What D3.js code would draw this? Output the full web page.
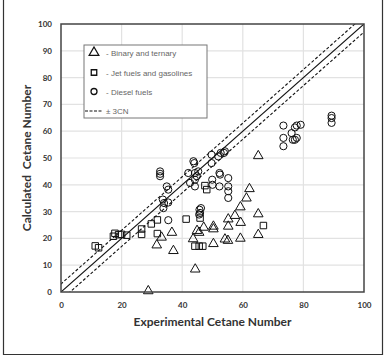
<!DOCTYPE html>
<html>
<head>
<meta charset="utf-8">
<script src="https://cdn.jsdelivr.net/npm/d3@7"></script>
<style>
  body { margin: 0; background: #fff; }
  svg { display: block; }
  .axis text { font-family: Lato, "Open Sans", sans-serif; font-weight: bold; font-size: 8px; fill: #333; }
  .axis path, .axis line { display: none; }
  .title { font-family: Lato, "Open Sans", sans-serif; font-weight: bold; font-size: 12px; fill: #333; }
  .legend text { font-family: "Liberation Sans", Arial, sans-serif; font-size: 8px; fill: #666; }
</style>
</head>
<body>
<div id="chart"></div>
<script>
// Binary and ternary mixtures [experimental, calculated]
const binaryTernary = [
  [28.8, 0.2], [31.6, 17.3], [33.2, 20.2], [36.6, 22], [37.1, 15.2], [43.6, 19.6],
  [44.3, 8.3], [44.9, 22.7], [45.6, 22], [47.1, 23.9], [50.3, 24.3], [50.3, 23.3],
  [50.3, 17.8], [54.1, 19.5], [55.1, 19], [55.2, 27], [55.2, 24.3], [57.4, 28.3],
  [59.2, 31.5], [59.3, 25.7], [59.2, 19.8], [61.2, 34.8], [62.2, 38.3], [65.1, 50.6],
  [65.1, 28.9], [65.1, 21.2]
];
// Jet fuels and gasolines
const jetGasoline = [
  [11.3, 17.2], [12.4, 16.5], [17.3, 20.8], [17.8, 21.9], [19, 21.4], [20, 21.5],
  [21.7, 21.2], [26.6, 23.5], [26.6, 21.5], [29.8, 25.4], [31.8, 26.9], [31.8, 21.8],
  [41.3, 27.2], [45.9, 27.6], [44.2, 17.1], [45.6, 17.1], [46.8, 17.1], [47.5, 39.7],
  [48.1, 38.2], [66.8, 24.8]
];
// Diesel fuels
const dieselFuels = [
  [32.7, 45], [32.7, 44.1], [32.7, 43.2], [33.6, 34.5], [34, 33.2], [33.8, 31.3],
  [34.9, 39.4], [35.4, 38.2], [35.4, 33.4], [35.4, 26.8], [42, 44.4], [42.6, 40.7],
  [43.7, 48.8], [44, 48.1], [44.2, 44.4], [44.2, 41.9], [44.2, 39.4], [44.8, 43.2],
  [45.3, 45], [45.7, 30.7], [45.9, 29.5], [46.2, 31.3], [45.6, 28.9], [49.7, 51.2],
  [49.7, 48.1], [49.9, 41.9], [50, 40], [51.9, 50.6], [52.3, 44.4], [52.5, 43.8],
  [52.3, 39.4], [52.7, 51.9], [53.8, 51.9], [54.1, 52.5], [55.2, 42.5], [55.2, 39.4],
  [55.2, 37.6], [55.2, 35.1], [73.4, 62.1], [73.4, 57.5], [73.4, 54.4], [76.1, 59.3],
  [76.5, 56.8], [77.2, 56.8], [77.8, 57.5], [77.2, 61.4], [77.8, 62.1], [79.1, 62.4],
  [89.3, 65.8], [89.3, 64.9], [89.3, 63.1]
];
const xTicks = [0, 20, 40, 60, 80, 100];
const yTicks = [0, 10, 20, 30, 40, 50, 60, 70, 80, 90, 100];
const bandCN = 3;
const legendLabels = ['- Binary and ternary', '- Jet fuels and gasolines', '- Diesel fuels', '\u00B1 3CN'];

const W = 385, H = 357;
const margin = {top: 24, right: 21, bottom: 65, left: 61};
const width = W - margin.left - margin.right;
const height = H - margin.top - margin.bottom;

const svg = d3.select('#chart').append('svg').attr('width', W).attr('height', H);

// outer frame
svg.append('path')
  .attr('d', 'M3.5,0 V354.5 H382.5 V0')
  .attr('fill', 'none').attr('stroke', '#333').attr('stroke-width', 1.2);

const x = d3.scaleLinear().domain([0, 100]).range([0, width]);
const y = d3.scaleLinear().domain([0, 100]).range([height, 0]);

const g = svg.append('g').attr('transform', `translate(${margin.left},${margin.top})`);

// grid
g.append('g').selectAll('line').data(xTicks.slice(1, -1)).enter().append('line')
  .attr('x1', d => x(d)).attr('x2', d => x(d)).attr('y1', 0).attr('y2', height)
  .attr('stroke', '#e2e2e2').attr('stroke-width', 1.2);
g.append('g').selectAll('line').data(yTicks.slice(1, -1)).enter().append('line')
  .attr('y1', d => y(d)).attr('y2', d => y(d)).attr('x1', 0).attr('x2', width)
  .attr('stroke', '#e2e2e2').attr('stroke-width', 1.2);

// axes
g.append('g').attr('class', 'axis')
  .attr('transform', `translate(0,${height})`)
  .call(d3.axisBottom(x).tickValues(xTicks).tickSize(0).tickPadding(10));
g.append('g').attr('class', 'axis')
  .call(d3.axisLeft(y).tickValues(yTicks).tickSize(0).tickPadding(9));

// clip for diagonals
g.append('clipPath').attr('id', 'plotClip')
  .append('rect').attr('width', width).attr('height', height);

const diag = g.append('g').attr('clip-path', 'url(#plotClip)');
const line = d3.line().x(d => x(d[0])).y(d => y(d[1]));
[0, bandCN, -bandCN].forEach(off => {
  diag.append('path')
    .datum([[-10, -10 + off], [110, 110 + off]])
    .attr('d', line)
    .attr('fill', 'none').attr('stroke', '#111').attr('stroke-width', 1.1)
    .attr('stroke-dasharray', off === 0 ? null : '3,2');
});

// markers
const tri = d3.symbol().type(d3.symbolTriangle).size(40);
const sq = d3.symbol().type(d3.symbolSquare).size(42);
g.append('g').selectAll('path').data(binaryTernary).enter().append('path')
  .attr('d', tri)
  .attr('transform', d => `translate(${x(d[0])},${y(d[1]) - 0.5})`)
  .attr('fill', 'none').attr('stroke', '#111').attr('stroke-width', 1);
g.append('g').selectAll('path').data(jetGasoline).enter().append('path')
  .attr('d', sq)
  .attr('transform', d => `translate(${x(d[0])},${y(d[1])})`)
  .attr('fill', 'none').attr('stroke', '#111').attr('stroke-width', 1);
g.append('g').selectAll('circle').data(dieselFuels).enter().append('circle')
  .attr('cx', d => x(d[0])).attr('cy', d => y(d[1])).attr('r', 3.6)
  .attr('fill', 'none').attr('stroke', '#111').attr('stroke-width', 1);

// plot frame
g.append('rect').attr('width', width).attr('height', height)
  .attr('fill', 'none').attr('stroke', '#444').attr('stroke-width', 1.5);

// axis titles
svg.append('text').attr('class', 'title')
  .attr('x', margin.left + width / 2).attr('y', 326)
  .attr('text-anchor', 'middle').text('Experimental Cetane Number');
svg.append('text').attr('class', 'title')
  .attr('transform', `translate(31,${margin.top + height / 2}) rotate(-90)`)
  .attr('text-anchor', 'middle').attr('xml:space', 'preserve')
  .text('Calculated  Cetane Number');

// legend
const leg = svg.append('g').attr('class', 'legend').attr('transform', 'translate(84,45)');
leg.append('rect').attr('width', 123).attr('height', 73)
  .attr('fill', '#fff').attr('stroke', '#777').attr('stroke-width', 1);
const rowY = [8, 27.5, 46.5, 66];
leg.append('path').attr('d', tri).attr('transform', `translate(10,${rowY[0] - 0.5})`)
  .attr('fill', 'none').attr('stroke', '#111').attr('stroke-width', 1.3);
leg.append('path').attr('d', d3.symbol().type(d3.symbolSquare).size(30))
  .attr('transform', `translate(10,${rowY[1]})`)
  .attr('fill', 'none').attr('stroke', '#111').attr('stroke-width', 1.3);
leg.append('circle').attr('cx', 10).attr('cy', rowY[2]).attr('r', 3)
  .attr('fill', 'none').attr('stroke', '#111').attr('stroke-width', 1.3);
leg.append('line').attr('x1', 1).attr('x2', 18).attr('y1', rowY[3]).attr('y2', rowY[3])
  .attr('stroke', '#111').attr('stroke-width', 1.2).attr('stroke-dasharray', '3,1.5');
legendLabels.forEach((t, i) => {
  leg.append('text').attr('x', i === 3 ? 22 : 22).attr('y', rowY[i] + 3).text(t);
});
</script>
</body>
</html>
